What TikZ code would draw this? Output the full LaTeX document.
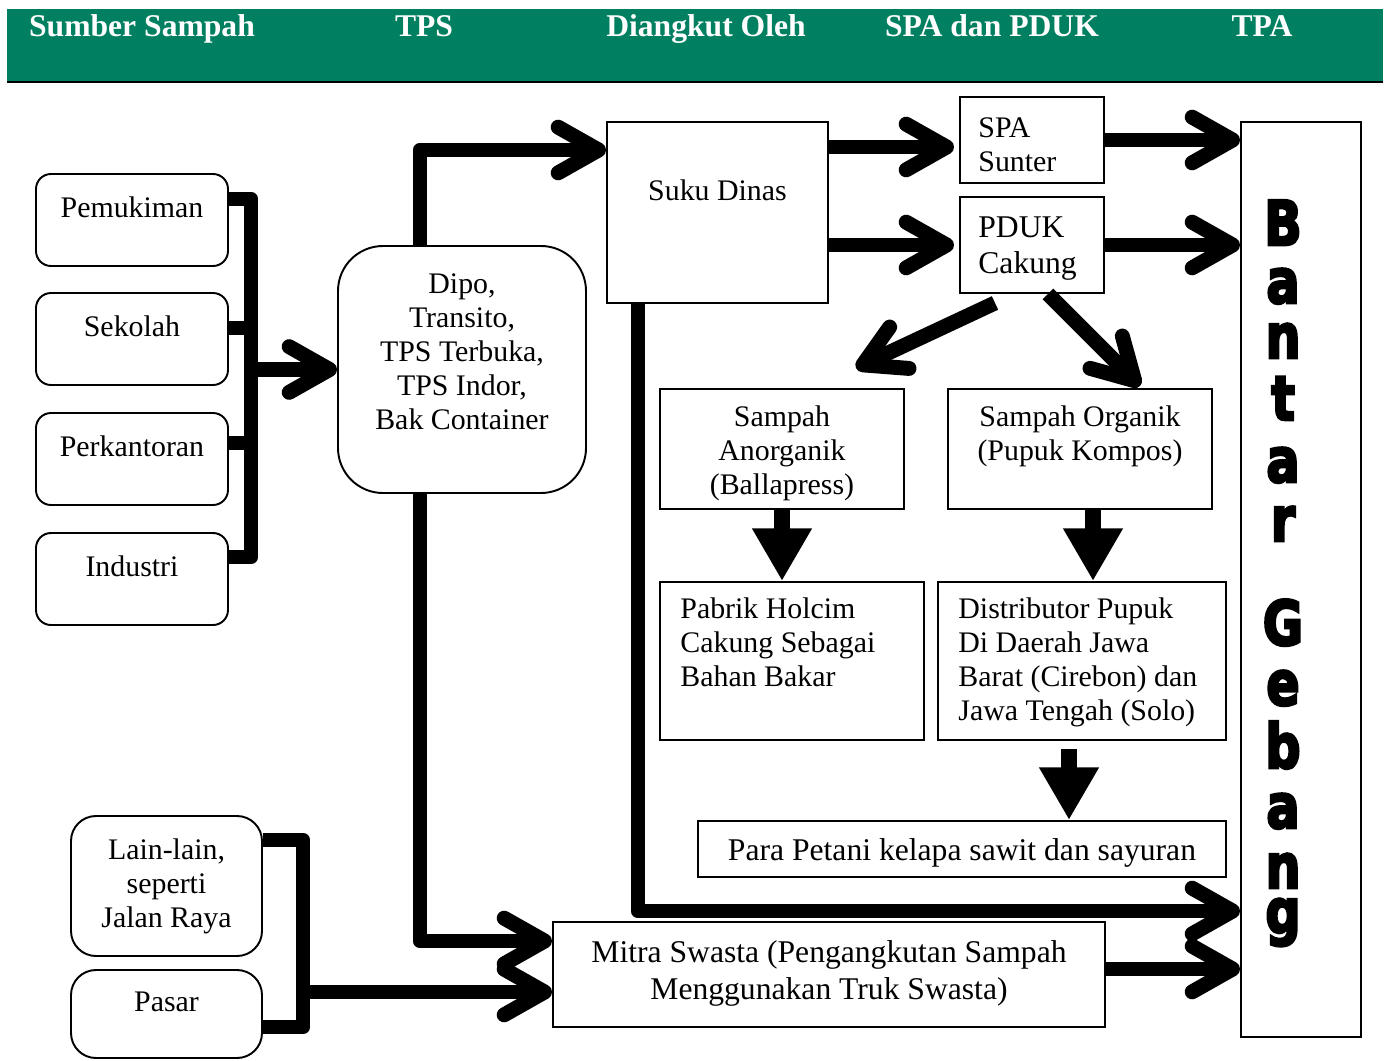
\documentclass[tikz,border=0pt]{standalone}
\usepackage{fontspec}
\setmainfont{Liberation Serif}
\newfontfamily\tpafont[FakeBold=4.5]{DejaVu Sans Bold}
\usetikzlibrary{arrows.meta,positioning}

\definecolor{headgreen}{RGB}{0,128,96}
\newlength\pxu
\setlength\pxu{0.02cm}
\newcommand\bodyfont{\fontsize{17pt}{19.4pt}\selectfont}
\newcommand\widefont{\fontsize{18pt}{21pt}\selectfont}
\newcommand\headfont{\bfseries\fontsize{18pt}{21pt}\selectfont}

\tikzset{
  plainbox/.style={draw, line width=1.1pt, inner sep=0pt},
  roundbox/.style={plainbox, rounded corners=15\pxu},
  srcbox/.style={roundbox, minimum width=192\pxu, minimum height=92\pxu},
  boxtext/.style={inner sep=0pt, font=\bodyfont, align=center},
  lefttext/.style={boxtext, align=left},
  bus/.style={line width=8.5pt, line join=round},
  flow/.style={bus, -{Straight Barb[length=23pt, width=26pt, round]}},
  drop/.style={line width=9.6pt, -{Triangle[length=30pt, width=32pt]}},
  headtext/.style={font=\headfont, text=white, anchor=base},
  tpaglyph/.style={font=\tpafont\fontsize{35pt}{38pt}\selectfont, anchor=base, inner sep=0pt},
}

\begin{document}
\begin{tikzpicture}[x=0.02cm, y=-0.02cm]
\useasboundingbox (0,0) rectangle (1386,1061);

\fill[headgreen] (7,9) rectangle (1383,81);
\draw[line width=1.7pt] (7,82) -- (1383,82);
\node[headtext] (hdrsumber) at (142,37) {Sumber Sampah};
\node[headtext] (hdrtps) at (424,37) {TPS};
\node[headtext] (hdrangkut) at (706,37) {Diangkut Oleh};
\node[headtext] (hdrspa) at (992,37) {SPA dan PDUK};
\node[headtext] (hdrtpa) at (1262,37) {TPA};

% sumber sampah
\node[srcbox] (pemukiman) at (132,220) {};
\node[srcbox] (sekolah) at (132,339) {};
\node[srcbox] (perkantoran) at (132,459) {};
\node[srcbox] (industri) at (132,579) {};
\node[boxtext, below=23\pxu of pemukiman.north] (pemukimantext) {Pemukiman};
\node[boxtext, below=23\pxu of sekolah.north] (sekolahtext) {Sekolah};
\node[boxtext, below=23\pxu of perkantoran.north] (perkantorantext) {Perkantoran};
\node[boxtext, below=23\pxu of industri.north] (industritext) {Industri};

\node[roundbox, rounded corners=25\pxu, minimum width=191\pxu, minimum height=140\pxu] (lainlain) at (166.5,886) {};
\node[roundbox, rounded corners=25\pxu, minimum width=191\pxu, minimum height=88\pxu] (pasar) at (166.5,1014) {};
\node[boxtext, below=23\pxu of lainlain.north] (lainlaintext) {Lain-lain,\\seperti\\Jalan Raya};
\node[boxtext, below=23\pxu of pasar.north] (pasartext) {Pasar};

% tps
\node[plainbox, rounded corners=45\pxu, minimum width=248\pxu, minimum height=247\pxu] (dipo) at (462,369.5) {};
\node[boxtext, below=28\pxu of dipo.north] (dipotext) {Dipo,\\Transito,\\TPS Terbuka,\\TPS Indor,\\Bak Container};

% diangkut oleh
\node[plainbox, minimum width=221\pxu, minimum height=181\pxu] (sukudinas) at (717.5,212.5) {};
\node[boxtext, below=58\pxu of sukudinas.north] (sukudinastext) {Suku Dinas};
\node[plainbox, minimum width=552\pxu, minimum height=105\pxu] (mitra) at (829,974.5) {};
\node[boxtext, font=\widefont, below=19\pxu of mitra.north] (mitratext) {Mitra Swasta (Pengangkutan Sampah\\Menggunakan Truk Swasta)};

% spa dan pduk
\node[plainbox, minimum width=144\pxu, minimum height=86\pxu] (spa) at (1032,140) {};
\node[lefttext, below right=21\pxu and 19\pxu of spa.north west] (spatext) {SPA\\Sunter};
\node[plainbox, minimum width=144\pxu, minimum height=96\pxu] (pduk) at (1032,245) {};
\node[lefttext, font=\widefont, below right=20\pxu and 19\pxu of pduk.north west] (pduktext) {PDUK\\Cakung};

\node[plainbox, minimum width=244\pxu, minimum height=120\pxu] (anorganik) at (782,449) {};
\node[boxtext, below=17\pxu of anorganik.north] (anorganiktext) {Sampah\\Anorganik\\(Ballapress)};
\node[plainbox, minimum width=264\pxu, minimum height=120\pxu] (organik) at (1080,449) {};
\node[boxtext, below=17\pxu of organik.north] (organiktext) {Sampah Organik\\(Pupuk Kompos)};
\node[plainbox, minimum width=264\pxu, minimum height=158\pxu] (pabrik) at (792,661) {};
\node[lefttext, below right=16\pxu and 21\pxu of pabrik.north west] (pabriktext) {Pabrik Holcim\\Cakung Sebagai\\Bahan Bakar};
\node[plainbox, minimum width=288\pxu, minimum height=158\pxu] (distributor) at (1082,661) {};
\node[lefttext, below right=16\pxu and 21\pxu of distributor.north west] (distributortext) {Distributor Pupuk\\Di Daerah Jawa\\Barat (Cirebon) dan\\Jawa Tengah (Solo)};
\node[plainbox, minimum width=528\pxu, minimum height=56\pxu] (petani) at (962,849) {};
\node[boxtext, font=\widefont, yshift=-4\pxu] (petanitext) at (petani) {Para Petani kelapa sawit dan sayuran};

% tpa
\node[plainbox, minimum width=120\pxu, minimum height=915\pxu] (tpa) at (1301,579.5) {};
\foreach \ch/\yy [count=\k] in {B/245,a/303,n/358,t/420,a/482,r/541,G/645,e/705,b/768,a/828,n/888,g/933}
  \node[tpaglyph] (tpaglyph\k) at (1283,\yy) {\scalebox{0.8}[1]{\ch}};

% alur
\coordinate (srcbustop) at (251,199);
\coordinate (srcbusbot) at (251,557);
\draw[bus] (pemukiman.east |- srcbustop) -- (srcbustop) -- (srcbusbot) -- (industri.east |- srcbusbot);
\draw[bus] (sekolah.east |- 0,328) -- (srcbustop |- 0,328);
\draw[bus] (perkantoran.east |- 0,443) -- (srcbustop |- 0,443);
\draw[flow] (srcbustop |- dipo.west) -- (dipo.west);

\coordinate (otherbustop) at (303,840);
\coordinate (otherbusbot) at (303,1027);
\draw[bus] (lainlain.east |- otherbustop) -- (otherbustop) -- (otherbusbot) -- (pasar.east |- otherbusbot);
\draw[flow] (otherbustop |- 0,992) -- (mitra.west |- 0,992);

\draw[flow] (dipo.north -| 420,0) |- (sukudinas.west |- 0,150);
\draw[flow] (dipo.south -| 420,0) |- (mitra.west |- 0,941);
\draw[flow] (sukudinas.south -| 638,0) |- (tpa.west |- 0,911);

\draw[flow] (sukudinas.east |- 0,147) -- ([xshift=-5\pxu]spa.west |- 0,147);
\draw[flow] (sukudinas.east |- pduk.west) -- ([xshift=-5\pxu]pduk.west);
\draw[flow] (spa.east) -- (tpa.west |- spa.east);
\draw[flow] (pduk.east) -- (tpa.west |- pduk.east);
\draw[flow] (mitra.east |- 0,969) -- (tpa.west |- 0,969);

\draw[flow] ([xshift=-37\pxu, yshift=-9\pxu]pduk.south) -- ([xshift=74\pxu, yshift=20\pxu]anorganik.north);
\draw[flow] ([xshift=16\pxu]pduk.south) -- ([xshift=60\pxu, yshift=2\pxu]organik.north);

\draw[drop] (anorganik.south) -- (pabrik.north -| anorganik.south);
\draw[drop] (organik.south -| 1093,0) -- (distributor.north -| 1093,0);
\coordinate (petanidrop) at (1069,749);
\draw[drop] (petanidrop) -- (petani.north -| petanidrop);

\end{tikzpicture}
\end{document}
